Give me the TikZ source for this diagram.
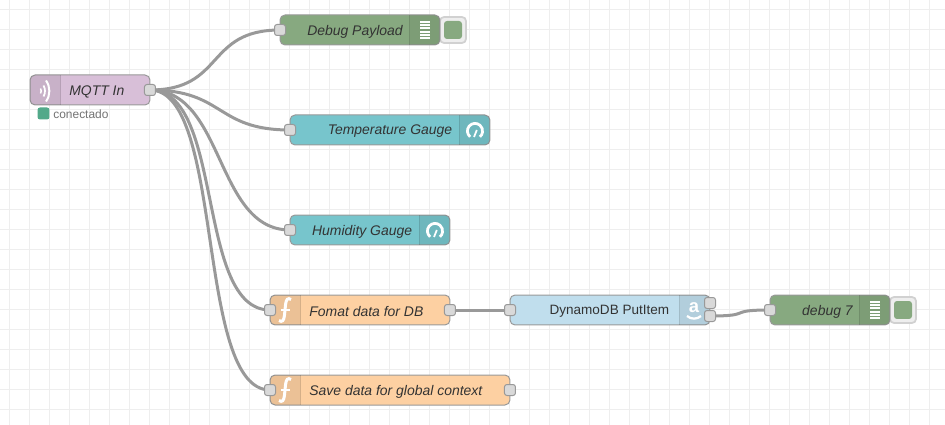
\documentclass[tikz,border=0pt]{standalone}
\usepackage{fontspec}
\setmainfont{Liberation Sans}
\usetikzlibrary{calc,backgrounds}

\definecolor{gridcol}{HTML}{EEEEEE}
\definecolor{wirecol}{HTML}{999999}
\definecolor{inkcol}{HTML}{333333}
\definecolor{portcol}{HTML}{D9D9D9}
\definecolor{mqttcol}{HTML}{D8BFD8}
\definecolor{debugcol}{HTML}{87A980}
\definecolor{gaugecol}{HTML}{77C5CC}
\definecolor{funccol}{HTML}{FDD0A2}
\definecolor{awscol}{HTML}{C0DEED}
\definecolor{statuscol}{HTML}{52A98A}

\tikzset{
	flowbox/.style={draw=wirecol,line width=.02cm,rounded corners=.1cm,minimum height=.6cm,inner sep=0pt,outer sep=0pt,anchor=west},
	flowport/.style={draw=wirecol,fill=portcol,line width=.02cm,rounded corners=.05cm,minimum size=.22cm,inner sep=0pt,outer sep=0pt},
	flowlabel/.style={text=inkcol,inner sep=0pt,font=\fontsize{7.94}{9.5}\selectfont\itshape},
	awslabel/.style={text=inkcol,inner sep=0pt,font=\fontsize{7.7}{9.5}\selectfont},
	statuslabel/.style={text=black!55,inner sep=0pt,anchor=west,font=\fontsize{6.8}{8}\selectfont},
	wire/.style={draw=wirecol,line width=.06cm},
	iconshade/.style={fill=black,fill opacity=.07},
	icondiv/.style={draw=black,draw opacity=.15,line width=.02cm},
	iconline/.style={draw=white,line width=.035cm},
	btnbox/.style={draw=black!18,fill=gridcol,line width=.035cm,rounded corners=.08cm,minimum width=.52cm,minimum height=.52cm,inner sep=0pt,outer sep=0pt},
	btnfill/.style={fill=debugcol,rounded corners=.06cm,minimum size=.36cm,inner sep=0pt,outer sep=0pt},
	debugicon/.pic={
		\foreach \k in {-8.3,-5,-1.7,1.7,5,8.3}
			\draw[iconline] (-5,\k)--(5,\k);
	},
	gaugeicon/.pic={
		\draw[iconline,line width=.055cm] (130:7.6) arc[start angle=130,end angle=410,radius=7.6];
		\draw[iconline] (1.8,-1)--(-1,6);
	},
	funcicon/.pic={
		\draw[iconline,line width=.06cm] (-6,10.5) .. controls (-3,12.5) and (-1,11) .. (-.5,5) -- (.5,-5) .. controls (1,-11) and (3,-12.5) .. (6,-10.5);
		\draw[iconline,line width=.045cm] (-4,0)--(5,0);
	},
	waveicon/.pic={
		\draw[iconline,line width=.03cm] (-4.5,-2.5) .. controls (-3.5,-1) and (-3.5,1) .. (-4.5,2.5);
		\draw[iconline,line width=.035cm] (-1.5,-5.5) .. controls (.5,-2) and (.5,2) .. (-1.5,5.5);
		\draw[iconline,line width=.04cm] (1,-10.5) .. controls (5.5,-4) and (5.5,4) .. (1,10.5);
	},
	awsicon/.pic={
		\node[text=white,inner sep=0pt,font=\fontsize{10.5}{10.5}\selectfont\bfseries] (awsa) at (0,-2) {a};
		\draw[iconline,line width=.045cm] (-7,6) .. controls (-3,9.5) and (3,9.5) .. (7,6);
	},
}

\newcommand{\iconleft}[1]{
	\fill[iconshade] ($(#1.north west)+(30,0)$) [rounded corners=.1cm] -- (#1.north west) -- (#1.south west) [sharp corners] -- ($(#1.south west)+(30,0)$) -- cycle;
	\draw[icondiv] ($(#1.north west)+(30,0)$)--($(#1.south west)+(30,0)$);
}
\newcommand{\iconright}[1]{
	\fill[iconshade] ($(#1.north east)+(-30,0)$) [rounded corners=.1cm] -- (#1.north east) -- (#1.south east) [sharp corners] -- ($(#1.south east)+(-30,0)$) -- cycle;
	\draw[icondiv] ($(#1.north east)+(-30,0)$)--($(#1.south east)+(-30,0)$);
}

\begin{document}
\begin{tikzpicture}[x=.02cm,y=-.02cm]
	\useasboundingbox (0,0) rectangle (945,425);

	% nodes
	\node[flowbox,fill=mqttcol,minimum width=2.4cm] (mqtt) at (30,90) {};
	\iconleft{mqtt}
	\pic at (45,91) {waveicon};
	\node[flowlabel,anchor=west] (mqttlabel) at (69,91.5) {MQTT In};
	\node[flowport] (mqttout) at (mqtt.east) {};
	\node[fill=statuscol,rounded corners=.05cm,minimum size=.24cm,inner sep=0pt] (mqttdot) at (43.5,113.5) {};
	\node[statuslabel] (mqttstatus) at (53,114) {conectado};

	\node[btnbox] (debugbtn) at (453,30) {};
	\node[btnfill] (debugled) at (453,30) {};
	\node[flowbox,fill=debugcol,minimum width=3.2cm] (debug) at (280,30) {};
	\iconright{debug}
	\pic at (425,30) {debugicon};
	\node[flowlabel,anchor=east] (debuglabel) at (403,31.5) {Debug Payload};
	\node[flowport] (debugin) at (debug.west) {};

	\node[flowbox,fill=gaugecol,minimum width=4cm] (temp) at (290,130) {};
	\iconright{temp}
	\pic at (475,131) {gaugeicon};
	\node[flowlabel,anchor=east] (templabel) at (452.5,131.5) {Temperature Gauge};
	\node[flowport] (tempin) at (temp.west) {};

	\node[flowbox,fill=gaugecol,minimum width=3.2cm] (humid) at (290,230) {};
	\iconright{humid}
	\pic at (435,231) {gaugeicon};
	\node[flowlabel,anchor=east] (humidlabel) at (412.5,231.5) {Humidity Gauge};
	\node[flowport] (humidin) at (humid.west) {};

	\node[flowbox,fill=funccol,minimum width=3.6cm] (fomat) at (270,310) {};
	\iconleft{fomat}
	\pic at (285,310) {funcicon};
	\node[flowlabel,anchor=west] (fomatlabel) at (309,311.5) {Fomat data for DB};
	\node[flowport] (fomatin) at (fomat.west) {};
	\node[flowport] (fomatout) at (fomat.east) {};

	\node[flowbox,fill=funccol,minimum width=4.8cm] (save) at (270,390) {};
	\iconleft{save}
	\pic at (285,390) {funcicon};
	\node[flowlabel,anchor=west] (savelabel) at (309,391.5) {Save data for global context};
	\node[flowport] (savein) at (save.west) {};
	\node[flowport] (saveout) at (save.east) {};

	\node[flowbox,fill=awscol,minimum width=4cm] (dynamo) at (510,310) {};
	\iconright{dynamo}
	\pic at (694,310) {awsicon};
	\node[awslabel,anchor=east] (dynamolabel) at (669.5,311) {DynamoDB PutItem};
	\node[flowport] (dynamoin) at (dynamo.west) {};
	\node[flowport] (dynamoa) at (710,303) {};
	\node[flowport] (dynamob) at (710,316) {};

	\node[btnbox] (lastbtn) at (903,310) {};
	\node[btnfill] (lastled) at (903,310) {};
	\node[flowbox,fill=debugcol,minimum width=2.4cm] (last) at (770,310) {};
	\iconright{last}
	\pic at (875,310) {debugicon};
	\node[flowlabel,anchor=east] (lastlabel) at (853,311.5) {debug 7};
	\node[flowport] (lastin) at (last.west) {};

	\begin{pgfonlayer}{background}
		\fill[white] (0,0) rectangle (945,425);
		\foreach \gx in {0,...,47}
			\draw[gridcol,line width=.02cm] (9.5+20*\gx,0)--(9.5+20*\gx,425);
		\foreach \gy in {0,...,21}
			\draw[gridcol,line width=.02cm] (0,9.5+20*\gy)--(945,9.5+20*\gy);

		% wires
		\foreach \dest in {debugin,tempin,humidin,fomatin,savein}
			\draw[wire] (mqttout.center) .. controls +(75,0) and ($(\dest.center)+(-75,0)$) .. (\dest.center);
		\draw[wire] (fomatout.center) -- (dynamoin.center);
		\draw[wire] (dynamob.center) .. controls +(45,0) and ($(lastin.center)+(-45,0)$) .. (lastin.center);
	\end{pgfonlayer}
\end{tikzpicture}
\end{document}
